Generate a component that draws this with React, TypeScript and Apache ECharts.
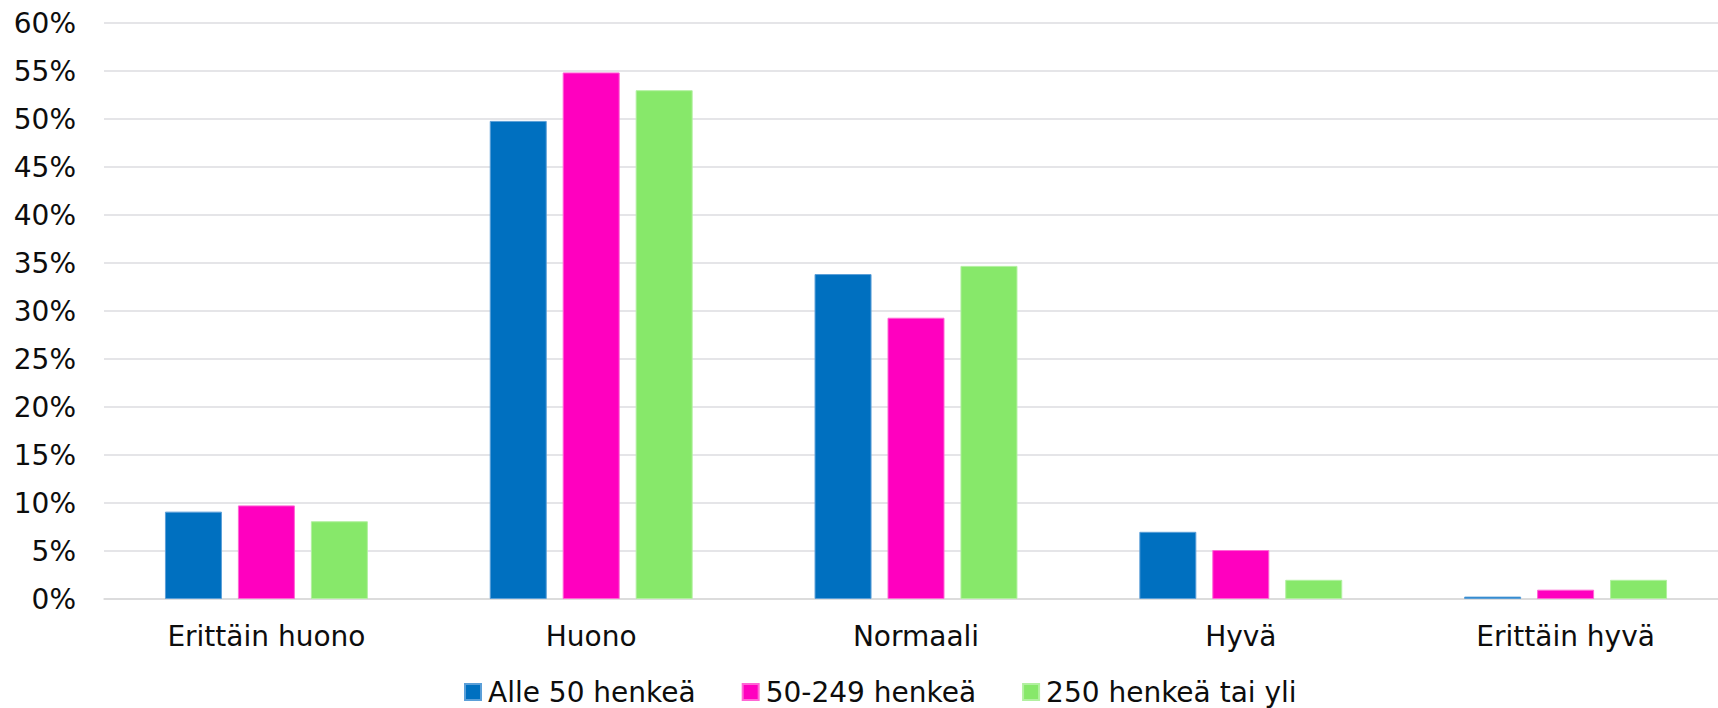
import React, { useEffect, useRef } from "react";
import * as echarts from "echarts";

const categories = ["Erittäin huono", "Huono", "Normaali", "Hyvä", "Erittäin hyvä"];
const seriesNames = ["Alle 50 henkeä", "50-249 henkeä", "250 henkeä tai yli"];
const alle50 = [9.1, 49.8, 33.85, 7.0, 0.25];
const mid50to249 = [9.75, 54.85, 29.3, 5.1, 0.97];
const over250 = [8.1, 53.0, 34.7, 2.0, 2.0];
const colors = ["#0070C0", "#FF00BF", "#87E86A"];
const borderColors = ["#5B9FD8", "#FF66D5", "#B2F0A0"];

const FONT = "'DejaVu Sans', Verdana, sans-serif";
const FS = 28;

export default function App() {
  const ref = useRef<HTMLDivElement>(null);
  useEffect(() => {
    if (!ref.current) return;
    const chart = echarts.init(ref.current, undefined, { renderer: "svg" });
    const data = [alle50, mid50to249, over250];
    chart.setOption({
      animation: false,
      backgroundColor: "#ffffff",
      textStyle: { fontFamily: FONT },
      grid: { left: 104, top: 23, width: 1624, height: 576, containLabel: false },
      legend: {
        left: 459,
        top: 673,
        itemWidth: 16,
        itemHeight: 16,
        itemGap: 46,
        icon: "rect",
        textStyle: { fontFamily: FONT, fontSize: FS, color: "#0d0d0d", padding: [0, 0, 0, 2] },
        data: seriesNames,
      },
      xAxis: {
        type: "category",
        data: categories,
        axisLine: { show: true, lineStyle: { color: "#d9d9d9", width: 1.5 } },
        axisTick: { show: false },
        axisLabel: { fontFamily: FONT, fontSize: FS, color: "#0d0d0d", margin: 23 },
      },
      yAxis: {
        type: "value",
        min: 0,
        max: 60,
        interval: 5,
        axisLine: { show: false },
        axisTick: { show: false },
        splitLine: { lineStyle: { color: "#dcdce0", width: 1.5 } },
        axisLabel: {
          fontFamily: FONT,
          fontSize: FS,
          color: "#0d0d0d",
          margin: 28,
          formatter: "{value}%",
        },
      },
      series: seriesNames.map((name, i) => ({
        name,
        type: "bar",
        data: data[i],
        barWidth: 57,
        barGap: "28%",
        itemStyle: { color: colors[i], borderColor: borderColors[i], borderWidth: 1 },
      })),
    });
    return () => chart.dispose();
  }, []);
  return (
    <div
      style={{
        position: "absolute",
        left: 0,
        top: 0,
        width: 1718,
        height: 708,
        overflow: "hidden",
        background: "#ffffff",
      }}
    >
      <div ref={ref} style={{ width: 1740, height: 708 }} />
    </div>
  );
}
